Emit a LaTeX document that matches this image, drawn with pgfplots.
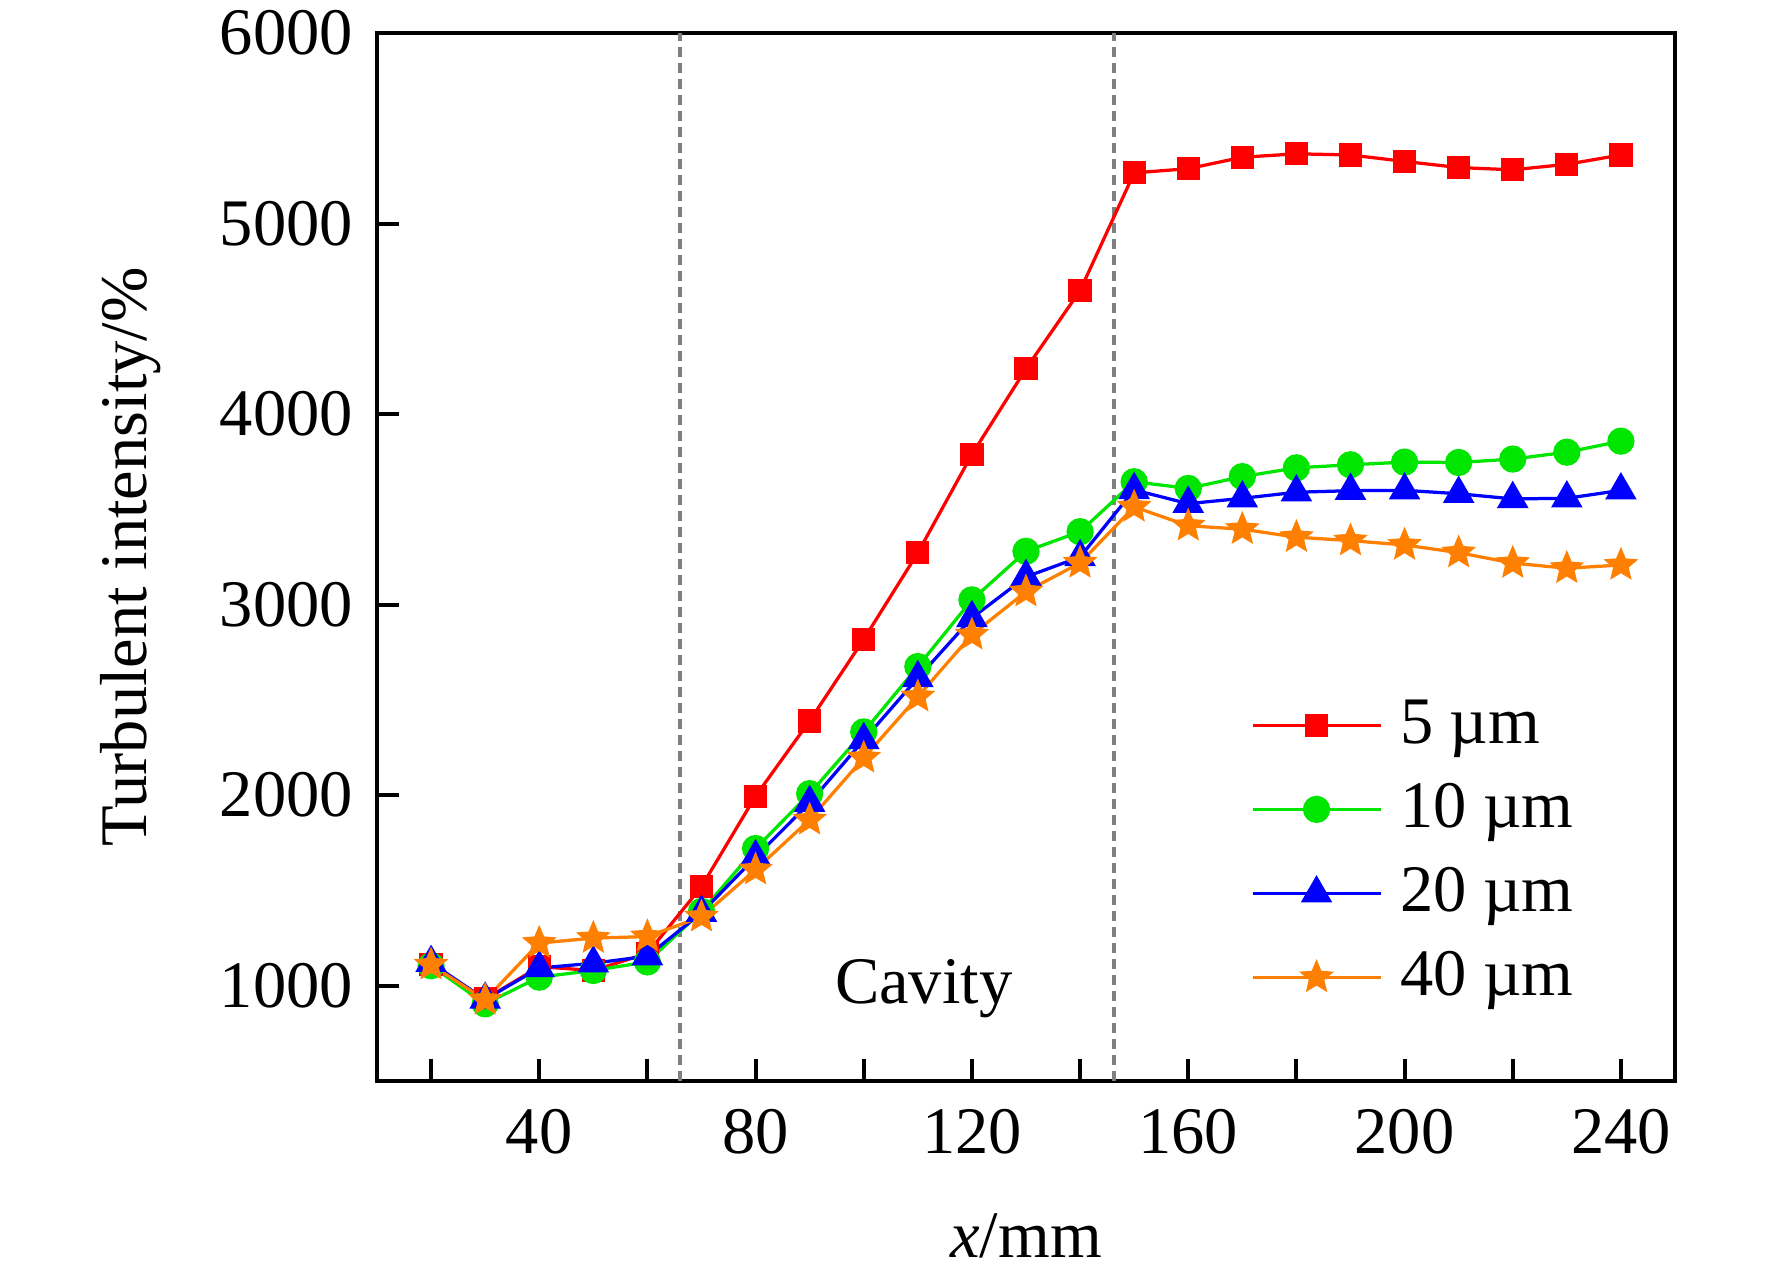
\documentclass[border=0pt]{standalone}
\usepackage{fontspec}
\setmainfont{Liberation Serif}
\usepackage{pgfplots}
\pgfplotsset{compat=1.18}
\definecolor{cred}{RGB}{255,0,0}
\definecolor{cgreen}{RGB}{0,230,0}
\definecolor{cblue}{RGB}{0,0,255}
\definecolor{corange}{RGB}{255,128,0}
\pgfdeclareplotmark{fstar}{%
  \pgfpathmoveto{\pgfpointpolar{90}{\pgfplotmarksize}}%
  \pgfpathlineto{\pgfpointpolar{126}{0.45\pgfplotmarksize}}%
  \pgfpathlineto{\pgfpointpolar{162}{\pgfplotmarksize}}%
  \pgfpathlineto{\pgfpointpolar{198}{0.45\pgfplotmarksize}}%
  \pgfpathlineto{\pgfpointpolar{234}{\pgfplotmarksize}}%
  \pgfpathlineto{\pgfpointpolar{270}{0.45\pgfplotmarksize}}%
  \pgfpathlineto{\pgfpointpolar{306}{\pgfplotmarksize}}%
  \pgfpathlineto{\pgfpointpolar{342}{0.45\pgfplotmarksize}}%
  \pgfpathlineto{\pgfpointpolar{18}{\pgfplotmarksize}}%
  \pgfpathlineto{\pgfpointpolar{54}{0.45\pgfplotmarksize}}%
  \pgfpathclose
  \pgfusepathqfillstroke}
\pgfplotstableread{
x    r     g     b     o
20   1110  1105  1120  1110
30   930   905   928   926
40   1100  1045  1093  1224
50   1080  1080  1118  1250
60   1170  1125  1155  1258
70   1520  1390  1383  1362
80   1995  1720  1675  1609
90   2390  2008  1960  1871
100  2818  2332  2290  2196
110  3272  2675  2615  2517
120  3788  3025  2930  2842
130  4238  3280  3146  3068
140  4648  3383  3250  3219
150  5266  3645  3602  3513
160  5288  3610  3530  3414
170  5348  3672  3558  3396
180  5366  3718  3590  3354
190  5360  3734  3598  3336
200  5326  3748  3600  3313
210  5294  3746  3582  3273
220  5282  3764  3555  3218
230  5311  3800  3558  3191
240  5360  3858  3600  3208
}\datatable
\begin{document}
\fontsize{13.3}{16}\selectfont
\begin{tikzpicture}[font=\fontsize{13.3}{16}\selectfont]
\useasboundingbox (0,0) rectangle (354.4pt,255pt);
\begin{axis}[
  at={(75.4pt,38.8pt)}, anchor=south west,
  scale only axis, width=259.6pt, height=209.6pt,
  xmin=10, xmax=250, ymin=500, ymax=6000,
  xtick={20,40,...,240},
  xticklabels={,40,,80,,120,,160,,200,,240},
  ytick={1000,2000,...,6000},
  tick pos=left, tick align=inside, major tick length=4.4pt,
  tick style={black, line width=0.8pt},
  axis line style={line width=0.8pt},
  /pgf/number format/assume math mode=true,
  /pgf/number format/1000 sep={},
  xticklabel style={yshift=-1.0pt},
  yticklabel style={xshift=-0.2pt},
  xlabel={\textit{x}/mm},
  ylabel={Turbulent intensity/\%},
  xlabel style={at={(axis description cs:0.5,-0.148)}, anchor=center},
  ylabel style={at={(axis description cs:-0.190,0.5)}, anchor=center},
  legend image code/.code={\draw[mark repeat=2,mark phase=2] plot coordinates {(0cm,0cm) (0.45cm,0cm) (0.9cm,0cm)};},
  legend style={at={(axis cs:171.4,2537)}, anchor=north west, draw=none, fill=none,
    inner sep=0pt, column sep=3.6pt, row sep=4.2pt,
    nodes={inner sep=0pt, text height=10pt, text depth=2.6pt}},
  legend cell align=left,
]
\draw[gray, line width=0.7pt, dash pattern=on 2pt off 1.2pt] (axis cs:66,500) -- (axis cs:66,6000);
\draw[gray, line width=0.7pt, dash pattern=on 2pt off 1.2pt] (axis cs:146.3,500) -- (axis cs:146.3,6000);
\addplot[cred, line width=0.65pt, mark=square*, mark size=2pt, mark options={fill=cred, draw=cred}] table[x=x,y=r]{\datatable};
\addlegendentry{5 µm}
\addplot[cgreen, line width=0.65pt, mark=*, mark size=2.4pt, mark options={fill=cgreen, draw=cgreen}] table[x=x,y=g]{\datatable};
\addlegendentry{10 µm}
\addplot[cblue, line width=0.65pt, mark=triangle*, mark size=3pt, mark options={fill=cblue, draw=cblue}] table[x=x,y=b]{\datatable};
\addlegendentry{20 µm}
\addplot[corange, line width=0.65pt, mark=fstar, mark size=2.8pt, mark options={fill=corange, draw=corange}] table[x=x,y=o]{\datatable};
\addlegendentry{40 µm}
\node[anchor=base] at (axis cs:111.1,905) {Cavity};
\end{axis}
\end{tikzpicture}
\end{document}
